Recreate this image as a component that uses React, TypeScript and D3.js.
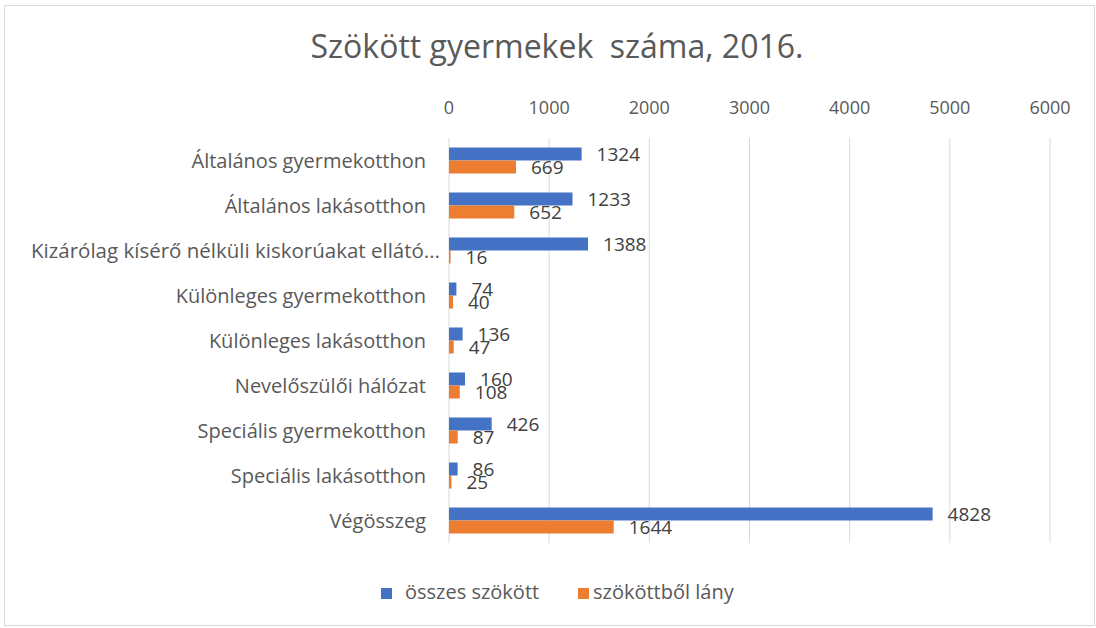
import React from "react";
import * as d3 from "d3";

const categories = [
  "Általános gyermekotthon",
  "Általános lakásotthon",
  "Kizárólag kísérő nélküli kiskorúakat ellátó...",
  "Különleges gyermekotthon",
  "Különleges lakásotthon",
  "Nevelőszülői hálózat",
  "Speciális gyermekotthon",
  "Speciális lakásotthon",
  "Végösszeg",
];
const totalValues = [1324, 1233, 1388, 74, 136, 160, 426, 86, 4828];
const girlValues = [669, 652, 16, 40, 47, 108, 87, 25, 1644];
const xTicks = [0, 1000, 2000, 3000, 4000, 5000, 6000];
const seriesNames = ["összes szökött", "szököttből lány"];
const seriesColors = ["#4472C4", "#ED7D31"];

const W = 1096;
const H = 628;
const FONT = "'Open Sans', 'Noto Sans', sans-serif";

export default function App() {
  const x = d3.scaleLinear().domain([0, 6000]).range([449, 1050]);
  const y = d3.scaleBand<string>().domain(categories).range([138, 543]).padding(0);
  const inner = d3
    .scaleBand<string>()
    .domain(["total", "girls"])
    .range([0, y.bandwidth()])
    .paddingInner(0)
    .paddingOuter(0.73);
  const series = [totalValues, girlValues];
  const keys = ["total", "girls"];
  const legendX = [381, 578];
  const legendTextX = [405, 593];

  return (
    <div style={{ position: "absolute", left: 0, top: 0 }}>
      <svg width={W} height={H} style={{ display: "block", background: "#fff" }}>
        <rect x={4.5} y={5.5} width={1090} height={620} fill="#fff" stroke="#D9D9D9" />
        <text
          x={557}
          y={58}
          textAnchor="middle"
          fontFamily={FONT}
          fontSize={32}
          fill="#595959"
          style={{ whiteSpace: "pre" }}
        >
          {"Szökött gyermekek  száma, 2016."}
        </text>
        {xTicks.map((t) => (
          <g key={t}>
            <line x1={x(t)} x2={x(t)} y1={138} y2={543} stroke="#D9D9D9" strokeWidth={1} />
            <text
              x={x(t)}
              y={114}
              textAnchor="middle"
              fontFamily={FONT}
              fontSize={18}
              fill="#595959"
            >
              {t}
            </text>
          </g>
        ))}
        {categories.map((c, i) => (
          <g key={c}>
            <text
              x={i === 2 ? 440 : 426}
              y={(y(c) as number) + y.bandwidth() / 2 + 7}
              textAnchor="end"
              fontFamily={FONT}
              fontSize={i === 2 ? 20.5 : 20}
              fill="#595959"
            >
              {c}
            </text>
            {series.map((vals, s) => {
              const by = (y(c) as number) + (inner(keys[s]) as number);
              const bh = inner.bandwidth();
              return (
                <g key={s}>
                  <rect
                    x={x(0)}
                    y={by}
                    width={x(vals[i]) - x(0)}
                    height={bh}
                    fill={seriesColors[s]}
                  />
                  <text
                    x={x(vals[i]) + 15}
                    y={by + bh / 2 + 7}
                    fontFamily={FONT}
                    fontSize={19}
                    fill="#404040"
                  >
                    {vals[i]}
                  </text>
                </g>
              );
            })}
          </g>
        ))}
        {seriesNames.map((n, s) => (
          <g key={n}>
            <rect x={legendX[s]} y={588} width={11} height={11} fill={seriesColors[s]} />
            <text
              x={legendTextX[s]}
              y={599}
              fontFamily={FONT}
              fontSize={20}
              fill="#595959"
            >
              {n}
            </text>
          </g>
        ))}
      </svg>
    </div>
  );
}
